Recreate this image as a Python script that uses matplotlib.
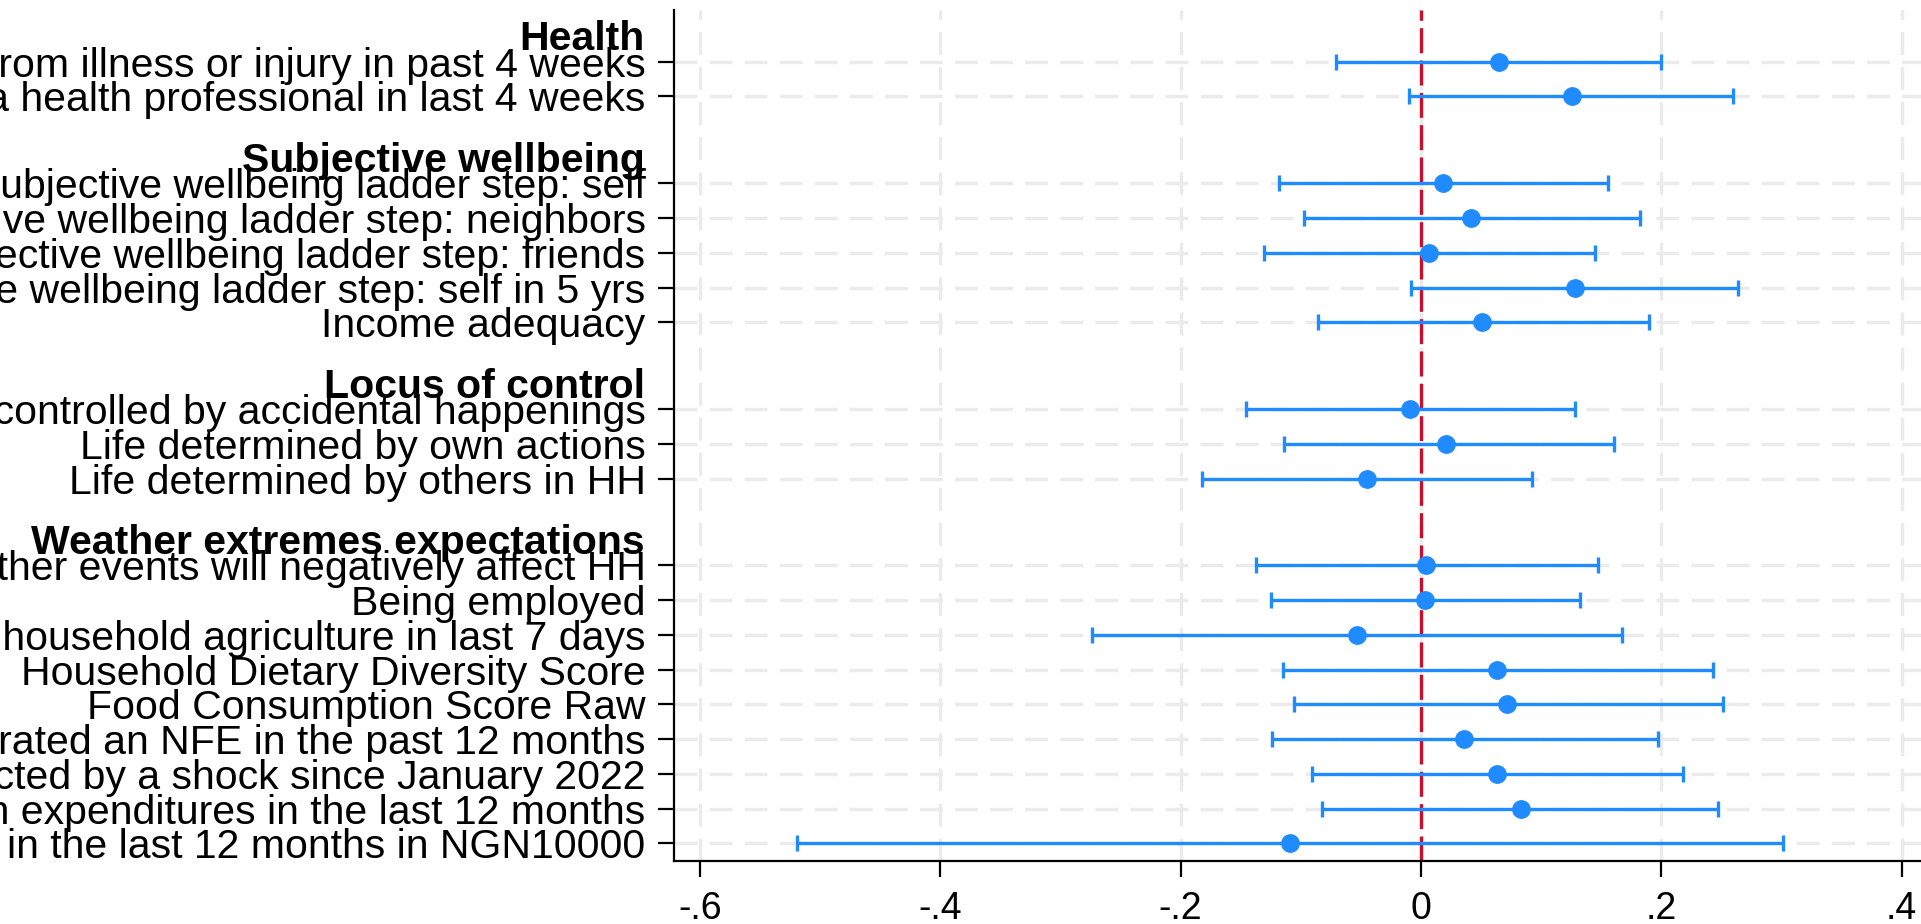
"""Coefficient plot: treatment effects with 95% CI, grouped outcomes"""

import matplotlib
matplotlib.use('Agg')
import matplotlib.pyplot as plt
import numpy as np

plt.rcParams['font.family'] = ['Liberation Sans', 'DejaVu Sans']

# --- data ---
group_names = ['Health', 'Subjective wellbeing', 'Locus of control',
               'Weather extremes expectations']
group_sizes = [2, 5, 3, 9]

labels = [
    'Suffered from illness or injury in past 4 weeks',
    'Consulted a health professional in last 4 weeks',
    'Subjective wellbeing ladder step: self',
    'Subjective wellbeing ladder step: neighbors',
    'Subjective wellbeing ladder step: friends',
    'Subjective wellbeing ladder step: self in 5 yrs',
    'Income adequacy',
    'Life controlled by accidental happenings',
    'Life determined by own actions',
    'Life determined by others in HH',
    'Extreme weather events will negatively affect HH',
    'Being employed',
    'Worked in household agriculture in last 7 days',
    'Household Dietary Diversity Score',
    'Food Consumption Score Raw',
    'Household operated an NFE in the past 12 months',
    'Household affected by a shock since January 2022',
    'Household health expenditures in the last 12 months',
    'Total consumption in the last 12 months in NGN10000',
]

coef = [0.065, 0.126, 0.018, 0.042, 0.007, 0.128, 0.051,
        -0.009, 0.021, -0.045,
        0.004, 0.003, -0.053, 0.063, 0.072, 0.036, 0.063, 0.083, -0.109]
ci_lo = [-0.071, -0.010, -0.118, -0.097, -0.131, -0.008, -0.086,
         -0.146, -0.114, -0.182,
         -0.137, -0.125, -0.274, -0.115, -0.106, -0.124, -0.091, -0.082, -0.519]
ci_hi = [0.200, 0.260, 0.156, 0.182, 0.145, 0.264, 0.190,
         0.128, 0.161, 0.092,
         0.147, 0.132, 0.167, 0.243, 0.251, 0.197, 0.218, 0.247, 0.301]

xticks = [-0.6, -0.4, -0.2, 0, 0.2, 0.4]
xticklabels = ['-.6', '-.4', '-.2', '0', '.2', '.4']

BLUE = '#1f8bff'
RED = '#c8102e'
GRID = '#ebebeb'

# row positions: groups separated by a gap that holds the heading
ypos, heads = [], []
y = 1.0
for n in group_sizes:
    heads.append(y - 0.65)
    for i in range(n):
        ypos.append(y + i)
    y += n - 1 + 2.5
ypos = np.array(ypos)
coef = np.array(coef)
ci_lo = np.array(ci_lo)
ci_hi = np.array(ci_hi)

fig = plt.figure(figsize=(19.21, 9.24), dpi=100)
ax = fig.add_axes([674 / 1921, 63.3 / 924, 1275.7 / 1921, 850.7 / 924])

ax.set_xlim(-0.6216, 0.44)
ax.set_ylim(24.0, -0.49)

ax.axvline(0, color=RED, lw=2.4, ls=(0, (7.5, 2.2)), zorder=2.5)
ax.errorbar(coef, ypos, xerr=[coef - ci_lo, ci_hi - coef], fmt='o',
            color=BLUE, ms=12.5, elinewidth=2.4, capsize=5.5, capthick=2.4,
            zorder=3)

ax.set_yticks(ypos, labels)
ax.set_xticks(xticks, xticklabels)
ax.tick_params(axis='y', length=11.5, width=1.6, pad=9, labelsize=29.5)
ax.tick_params(axis='x', length=11.5, width=1.6, pad=10, labelsize=27)

ax.grid(True, color=GRID, lw=2.5, ls=(0, (6.6, 3.5)), zorder=0)
ax.set_axisbelow(True)
for s in ['top', 'right']:
    ax.spines[s].set_visible(False)
for s in ['left', 'bottom']:
    ax.spines[s].set_linewidth(1.6)

for name, yh in zip(group_names, heads):
    ax.annotate(name, xy=(0, yh), xycoords=('axes fraction', 'data'),
                xytext=(-20.9, 0), textcoords='offset points',
                ha='right', va='center', fontsize=29.5, fontweight='bold',
                annotation_clip=False)

fig.savefig('out.png', dpi=100)
